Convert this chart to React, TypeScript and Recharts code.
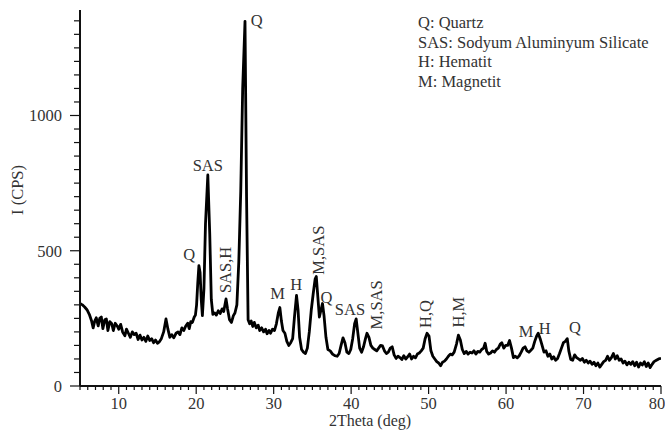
import { LineChart, Line, XAxis, YAxis, ReferenceDot } from "recharts";

// XRD pattern
const twoTheta = [
  5.0, 5.3, 5.6, 5.9, 6.2, 6.5, 6.7, 6.9, 7.1, 7.35, 7.55, 7.75, 7.95, 8.2, 8.4, 8.6, 8.85, 9.1, 9.3, 9.55,
  9.8, 10.0, 10.25, 10.5, 10.8, 11.0, 11.25, 11.5, 11.75, 12.0, 12.25, 12.5, 12.75, 13.0, 13.25, 13.5, 13.75, 14.0, 14.25, 14.5,
  14.75, 15.0, 15.2, 15.5, 15.8, 16.1, 16.35, 16.6, 16.85, 17.1, 17.4, 17.65, 17.9, 18.15, 18.4, 18.65, 18.9, 19.1, 19.3, 19.5,
  19.75, 19.9, 20.05, 20.2, 20.35, 20.5, 20.65, 20.8, 21.0, 21.2, 21.5, 21.75, 21.95, 22.15, 22.4, 22.6, 22.85, 23.1, 23.35, 23.55,
  23.85, 24.05, 24.3, 24.55, 24.8, 25.0, 25.25, 25.5, 25.75, 26.0, 26.3, 26.5, 26.7, 26.9, 27.1, 27.3, 27.5, 27.75, 28.0, 28.2,
  28.45, 28.7, 28.95, 29.15, 29.4, 29.6, 29.85, 30.1, 30.35, 30.6, 30.8, 31.0, 31.2, 31.45, 31.7, 31.95, 32.2, 32.45, 32.7, 32.95,
  33.15, 33.35, 33.6, 33.85, 34.1, 34.35, 34.6, 34.85, 35.1, 35.35, 35.5, 35.7, 35.9, 36.1, 36.3, 36.5, 36.75, 37.0, 37.3, 37.6,
  37.9, 38.2, 38.45, 38.7, 38.95, 39.2, 39.45, 39.7, 39.95, 40.2, 40.45, 40.65, 40.85, 41.1, 41.35, 41.6, 41.85, 42.05, 42.3, 42.55,
  42.8, 43.05, 43.3, 43.55, 43.8, 44.05, 44.3, 44.55, 44.8, 45.05, 45.3, 45.55, 45.8, 46.05, 46.3, 46.55, 46.8, 47.05, 47.3, 47.55,
  47.8, 48.05, 48.3, 48.55, 48.8, 49.05, 49.3, 49.55, 49.8, 50.05, 50.3, 50.55, 50.8, 51.05, 51.3, 51.55, 51.8, 52.05, 52.3, 52.55,
  52.8, 53.05, 53.3, 53.6, 53.85, 54.1, 54.35, 54.6, 54.85, 55.1, 55.35, 55.6, 55.85, 56.1, 56.35, 56.6, 56.85, 57.1, 57.3, 57.5,
  57.75, 58.0, 58.25, 58.5, 58.75, 59.0, 59.25, 59.45, 59.7, 59.95, 60.2, 60.45, 60.7, 60.95, 61.2, 61.45, 61.7, 61.95, 62.2, 62.45,
  62.7, 62.95, 63.2, 63.45, 63.7, 63.95, 64.15, 64.4, 64.65, 64.9, 65.15, 65.4, 65.65, 65.9, 66.15, 66.4, 66.65, 66.9, 67.15, 67.4,
  67.65, 67.9, 68.1, 68.35, 68.6, 68.85, 69.1, 69.35, 69.6, 69.85, 70.1, 70.35, 70.6, 70.85, 71.1, 71.35, 71.6, 71.85, 72.1, 72.35,
  72.6, 72.85, 73.1, 73.35, 73.6, 73.85, 74.1, 74.35, 74.6, 74.85, 75.1, 75.35, 75.6, 75.85, 76.1, 76.35, 76.6, 76.85, 77.1, 77.35,
  77.6, 77.85, 78.1, 78.35, 78.6, 78.85, 79.1, 79.4, 79.7, 80.0,
];
const intensity = [
  305, 300, 292, 282, 265, 240, 215, 240, 252, 222, 250, 255, 212, 245, 248, 205, 238, 230, 205, 232,
  222, 210, 228, 200, 186, 210, 195, 180, 200, 190, 195, 172, 188, 170, 180, 165, 185, 168, 175, 160,
  170, 158, 162, 175, 200, 248, 210, 180, 190, 178, 195, 200, 190, 215, 205, 222, 232, 212, 238, 235,
  255, 262, 300, 380, 445, 420, 320, 260, 360, 600, 780, 560, 320, 265, 270, 262, 278, 268, 285, 275,
  322, 285, 245, 235, 260, 270, 300, 460, 720, 1100, 1348, 700, 245, 230, 240, 220, 235, 215, 225, 205,
  215, 200, 210, 193, 205, 195, 210, 205, 230, 270, 290, 240, 205, 195, 165, 150, 160, 175, 260, 335,
  280, 180, 135, 125, 120, 140, 200, 280, 340, 395, 405, 330, 255, 280, 305, 260, 180, 135, 130, 118,
  112, 110, 120, 150, 178, 160, 125, 120, 135, 175, 230, 248, 200, 140, 125, 145, 175, 195, 180, 150,
  140, 135, 130, 140, 150, 148, 130, 120, 125, 140, 145, 115, 102, 110, 105, 98, 112, 100, 108, 118,
  100, 110, 104, 118, 122, 130, 140, 175, 195, 185, 130, 110, 100, 90, 85, 75, 88, 92, 100, 110,
  118, 115, 125, 155, 188, 170, 135, 120, 128, 118, 125, 122, 130, 118, 128, 125, 135, 140, 158, 128,
  118, 122, 130, 125, 135, 140, 155, 160, 140, 150, 150, 168, 140, 105, 110, 104, 112, 125, 140, 145,
  130, 125, 132, 140, 165, 185, 195, 175, 150, 125, 130, 110, 118, 100, 108, 95, 102, 120, 140, 160,
  165, 175, 130, 98, 95, 115, 105, 100, 95, 102, 88, 95, 85, 92, 80, 88, 75, 85, 70, 80,
  90, 95, 110, 95, 105, 120, 100, 112, 95, 100, 85, 92, 78, 88, 80, 90, 75, 88, 70, 85,
  78, 90, 72, 85, 68, 80, 90, 95, 100, 102,
];

// phase labels placed on the pattern
const annoText = ["Q", "SAS", "SAS,H", "Q", "M", "H", "M,SAS", "Q", "SAS", "M,SAS", "H,Q", "H,M", "M", "H", "Q"];
const annoX = [19.1, 21.5, 23.7, 27.8, 30.5, 32.9, 35.7, 36.8, 39.85, 43.2, 49.6, 53.8, 62.6, 65.0, 68.9];
const annoY = [488, 816, 429, 1352, 343, 377, 502, 330, 282, 300, 266, 273, 204, 214, 219];
const annoVertical = [false, false, true, false, false, false, true, false, false, true, true, true, false, false, false];

const legendLines = ["Q: Quartz", "SAS: Sodyum Aluminyum Silicate", "H: Hematit", "M: Magnetit"];

const xTicks = Array.from({ length: 76 }, (_, i) => 5 + i);
const yTicks = Array.from({ length: 28 }, (_, i) => i * 50);

const data = twoTheta.map((t, i) => ({ t, v: intensity[i] }));

const FONT = "'Liberation Serif', 'Times New Roman', serif";
const TEXT = "#333";
const FS = 16.5;

function XTick(props: any) {
  const { x, y, payload } = props;
  const major = payload.value % 10 === 0;
  // last label sits on the frame edge, nudge it in a bit
  const lx = payload.value === 80 ? x - 4 : x;
  return (
    <g>
      <line x1={x} x2={x} y1={y} y2={y + (major ? 8 : 4)} stroke="#111" strokeWidth={1.2} />
      {major && (
        <text x={lx} y={y + 11} dy="0.71em" textAnchor="middle" fontSize={FS} fontFamily={FONT} fill={TEXT}>
          {payload.value}
        </text>
      )}
    </g>
  );
}

function YTick(props: any) {
  const { x, y, payload } = props;
  const major = payload.value % 500 === 0;
  return (
    <g>
      <line x1={x} x2={x - (major ? 10 : 6)} y1={y} y2={y} stroke="#111" strokeWidth={1.2} />
      {major && (
        <text x={x - 18} y={y} dy="0.35em" textAnchor="end" fontSize={FS} fontFamily={FONT} fill={TEXT}>
          {payload.value}
        </text>
      )}
    </g>
  );
}

export default function App() {
  return (
    <div style={{ position: "absolute", left: 0, top: 0, width: 665, height: 432, background: "#fff", fontFamily: FONT }}>
      <LineChart width={665} height={432} data={data} margin={{ top: 10, right: 4, bottom: 0, left: 0 }}>
        <XAxis
          dataKey="t"
          type="number"
          domain={[5, 80]}
          ticks={xTicks}
          interval={0}
          height={46}
          tickSize={0}
          tickMargin={0}
          tickLine={false}
          tick={<XTick />}
          axisLine={{ stroke: "#111", strokeWidth: 2 }}
          allowDataOverflow
        />
        <XAxis
          xAxisId="top"
          orientation="top"
          type="number"
          domain={[5, 80]}
          height={0}
          tick={false}
          tickLine={false}
          axisLine={{ stroke: "#111", strokeWidth: 2 }}
        />
        <YAxis
          type="number"
          domain={[0, 1390]}
          ticks={yTicks}
          interval={0}
          width={80}
          tickSize={0}
          tickMargin={0}
          tickLine={false}
          tick={<YTick />}
          axisLine={{ stroke: "#111", strokeWidth: 2 }}
          allowDataOverflow
        />
        <YAxis
          yAxisId="right"
          orientation="right"
          type="number"
          domain={[0, 1390]}
          width={0}
          tick={false}
          tickLine={false}
          axisLine={{ stroke: "#111", strokeWidth: 2 }}
        />
        <Line
          dataKey="v"
          type="linear"
          stroke="#000"
          strokeWidth={2.8}
          strokeLinejoin="round"
          dot={false}
          isAnimationActive={false}
        />
        {annoText.map((txt, i) => (
          <ReferenceDot
            key={i}
            x={annoX[i]}
            y={annoY[i]}
            r={0}
            ifOverflow="visible"
            shape={(p: any) => (
              <text
                x={p.cx}
                y={p.cy}
                dy="0.35em"
                textAnchor="middle"
                fontSize={FS}
                fontFamily={FONT}
                fill={TEXT}
                transform={annoVertical[i] ? `rotate(-90, ${p.cx}, ${p.cy})` : undefined}
              >
                {txt}
              </text>
            )}
          />
        ))}
      </LineChart>

      {/* legend block, top right */}
      <div style={{ position: "absolute", left: 418, top: 13, fontSize: FS, lineHeight: "19.5px", color: TEXT }}>
        {legendLines.map((l) => (
          <div key={l}>{l}</div>
        ))}
      </div>

      {/* axis titles */}
      <div style={{ position: "absolute", left: 0, width: 740, top: 412, textAlign: "center", fontSize: 16, color: TEXT }}>
        2Theta (deg)
      </div>
      <div
        style={{
          position: "absolute",
          left: 18,
          top: 190,
          fontSize: 16.5,
          color: TEXT,
          whiteSpace: "nowrap",
          transform: "translate(-50%, -50%) rotate(-90deg)",
        }}
      >
        I (CPS)
      </div>
    </div>
  );
}
